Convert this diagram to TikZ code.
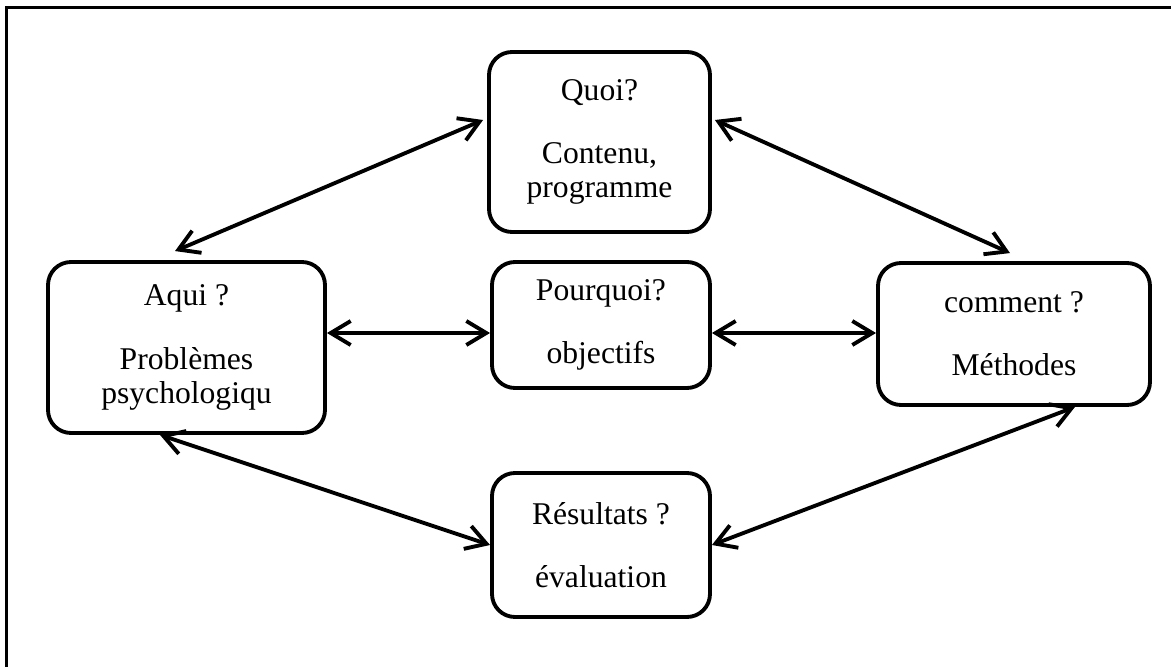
\documentclass[tikz,border=0pt]{standalone}
\usepackage{fontspec}
\setmainfont{Liberation Serif}
\usetikzlibrary{arrows.meta}

\tikzset{
  boite/.style={draw, line width=1.1pt, rounded corners=0.23cm, align=center,
    inner sep=0pt, font=\fontsize{9}{9.7}\selectfont},
  fleche/.style={line width=1.1pt,
    {Straight Barb[length=2mm,width=2.4mm]}-{Straight Barb[length=2mm,width=2.4mm]}}
}

\begin{document}
\begin{tikzpicture}
                \useasboundingbox (0,0) rectangle (11.71,-6.67);
                % cadre
                \draw[line width=0.6pt] (0.065,-6.67) -- (0.065,-0.075) -- (11.71,-0.075);

                \node[boite,minimum width=2.21cm,minimum height=1.80cm] (quoi) at (5.995,-1.42)
                  {Quoi?\\[0.29cm]Contenu,\\programme};
                \node[boite,minimum width=2.77cm,minimum height=1.71cm] (aqui) at (1.865,-3.475)
                  {Aqui ?\\[0.29cm]Problèmes\\psychologiqu};
                \node[boite,minimum width=2.18cm,minimum height=1.26cm] (pourquoi) at (6.01,-3.25)
                  {Pourquoi?\\[0.29cm]objectifs};
                \node[boite,minimum width=2.72cm,minimum height=1.42cm] (comment) at (10.14,-3.34)
                  {comment ?\\[0.29cm]Méthodes};
                \node[boite,minimum width=2.18cm,minimum height=1.44cm] (resultats) at (6.01,-5.45)
                  {Résultats ?\\[0.29cm]évaluation};

                \draw[fleche] ([shift={(-0.115,0.09)}]aqui.north) -- ([shift={(-0.04,0.22)}]quoi.west);
                \draw[fleche] ([shift={(0.03,0.22)}]quoi.east) -- ([shift={(-0.04,0.08)}]comment.north);
                \draw[fleche] ([yshift=-0.08cm]pourquoi.west -| aqui.east) -- ([yshift=-0.08cm]pourquoi.west);
                \draw[fleche] ([yshift=-0.08cm]pourquoi.east) -- ([yshift=-0.08cm]pourquoi.east -| comment.west);
                \draw[fleche] ([xshift=-0.265cm]aqui.south) -- (resultats.west);
                \draw[fleche] (resultats.east) -- ([xshift=0.61cm]comment.south);

            \end{tikzpicture}
\end{document}
